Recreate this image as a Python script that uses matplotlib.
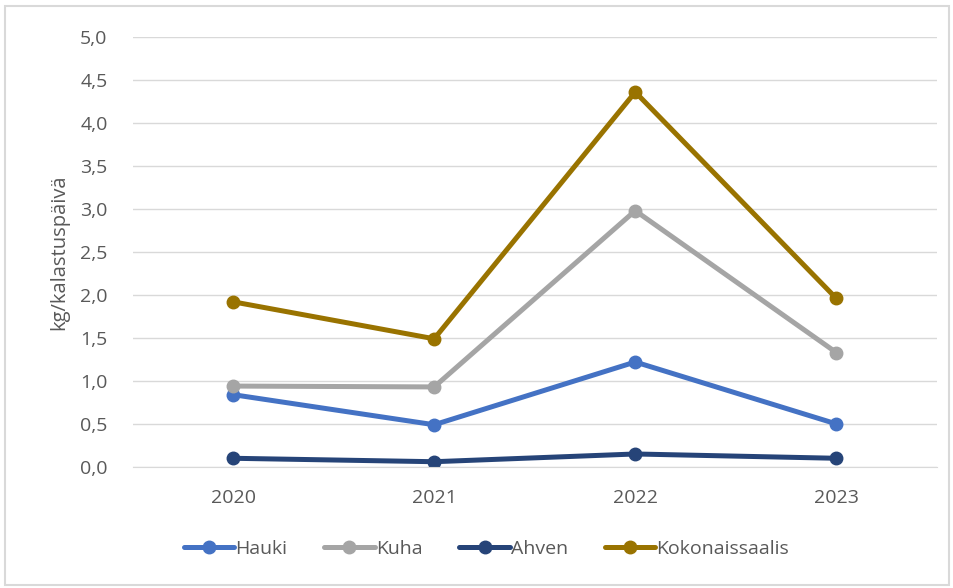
import matplotlib
matplotlib.use("Agg")
import matplotlib.pyplot as plt
from matplotlib.patches import Rectangle

years = ["2020", "2021", "2022", "2023"]
hauki = [0.84, 0.49, 1.22, 0.50]
kuha = [0.94, 0.93, 2.98, 1.33]
ahven = [0.10, 0.06, 0.15, 0.10]
koko = [1.92, 1.49, 4.36, 1.96]

series = [("Hauki", hauki, "#4472C4"),
          ("Kuha", kuha, "#A5A5A5"),
          ("Ahven", ahven, "#264478"),
          ("Kokonaissaalis", koko, "#997300")]

plt.rcParams['font.family'] = ['Open Sans', 'DejaVu Sans']
txt = "#595959"

fig = plt.figure(figsize=(9.54, 5.88), dpi=100)
fig.patches.append(Rectangle((0.005, 0.005), 0.99, 0.985, transform=fig.transFigure,
                             fill=False, edgecolor="#D9D9D9", linewidth=1.5))
ax = fig.add_axes([0.139, 0.206, 0.843, 0.731])

x = range(len(years))
for name, vals, col in series:
    ax.plot(x, vals, color=col, linewidth=3.6, marker="o", markersize=9,
            label=name, solid_capstyle="round")

ax.set_xlim(-0.5, 3.5)
ax.set_ylim(0, 5.0)
ticks = [i * 0.5 for i in range(11)]
ax.set_yticks(ticks)
ax.set_yticklabels([f"{t:.1f}".replace(".", ",") for t in ticks])
ax.set_xticks(list(x))
ax.set_xticklabels(years)
ax.grid(axis="y", color="#D9D9D9", linewidth=1)
ax.set_axisbelow(True)
for s in ["top", "right", "left"]:
    ax.spines[s].set_visible(False)
ax.spines["bottom"].set_color("#D9D9D9")
ax.tick_params(axis="y", length=0, colors=txt, labelsize=14, pad=18)
ax.tick_params(axis="x", length=0, colors=txt, labelsize=14, pad=16)
ax.set_ylabel("kg/kalastuspäivä", color=txt, fontsize=14.5, labelpad=8)

ax.legend(loc="upper center", bbox_to_anchor=(0.44, -0.13), ncol=4, frameon=False,
          fontsize=14, labelcolor=txt, handlelength=2.6, handletextpad=0.05,
          columnspacing=1.9)

fig.savefig("out.png", dpi=100)
